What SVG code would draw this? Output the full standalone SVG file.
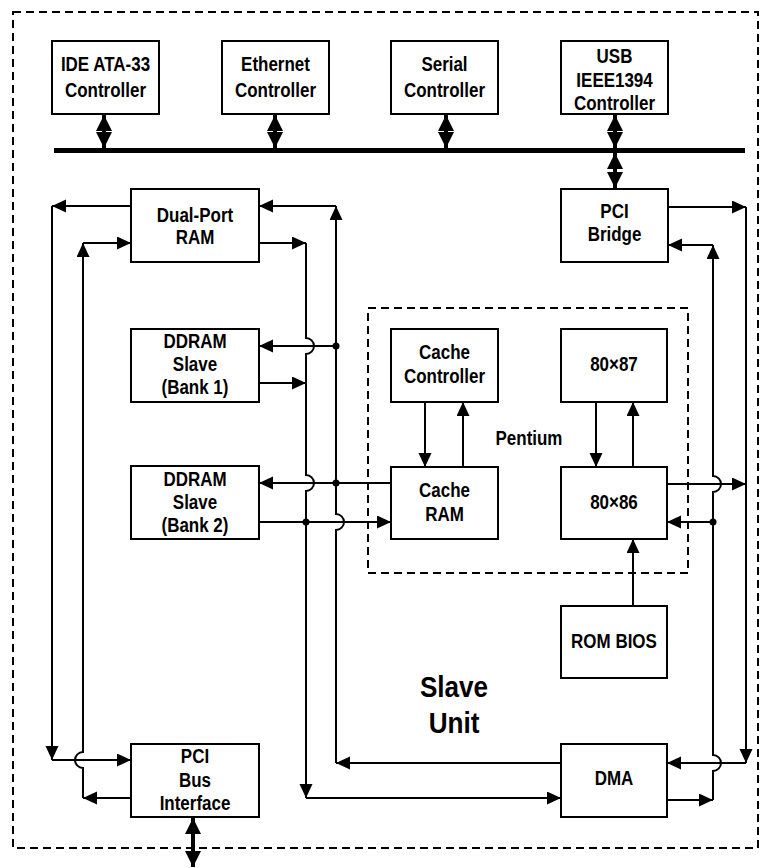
<svg xmlns="http://www.w3.org/2000/svg" width="767" height="868" viewBox="0 0 767 868">
<style>
.box{fill:#fff;stroke:#000;stroke-width:2}
.t{font-family:"Liberation Sans",Arial,sans-serif;font-weight:bold;font-size:19.5px;text-anchor:middle;fill:#000;transform-box:fill-box;transform-origin:center;transform:scaleX(0.87)}
.big{font-size:30px}
.ln{fill:none;stroke:#000;stroke-width:2}
.ar{marker-end:url(#ah)}
.dbl{fill:none;stroke:#000;stroke-width:4;marker-start:url(#dh);marker-end:url(#dh)}
.dash{fill:none;stroke:#000;stroke-width:2;stroke-dasharray:8 5}
.dot{fill:#000}
</style>
<defs>
<marker id="ah" markerUnits="userSpaceOnUse" markerWidth="15" markerHeight="14" refX="14" refY="6.5" orient="auto"><path d="M0,0 L14,6.5 L0,13 z" fill="#000"/></marker>
<marker id="dh" markerUnits="userSpaceOnUse" markerWidth="17" markerHeight="17" refX="16" refY="8" orient="auto-start-reverse"><path d="M0,0 L16,8 L0,16 z" fill="#000"/></marker>
</defs>
<rect class="dash" x="13" y="12" width="745" height="836"/>
<rect class="dash" x="368" y="308" width="320" height="265"/>
<text class="t" x="529" y="445">Pentium</text>
<text class="t big" x="454" y="697">Slave</text>
<text class="t big" x="454" y="733">Unit</text>
<g id="connectors">
<line x1="54" y1="150.5" x2="745" y2="150.5" stroke="#000" stroke-width="5"/>
<line class="dbl" x1="104" y1="115" x2="104" y2="148"/>
<line class="dbl" x1="275" y1="115" x2="275" y2="148"/>
<line class="dbl" x1="446" y1="115" x2="446" y2="148"/>
<line class="dbl" x1="615" y1="115" x2="615" y2="148"/>
<line class="dbl" x1="615" y1="153" x2="615" y2="188"/>
<line class="dbl" x1="193" y1="818" x2="193" y2="867"/>
<!-- left outer loop -->
<path class="ln ar" d="M131,206 H52"/>
<path class="ln ar" d="M52,206 V760"/>
<path class="ln ar" d="M52,760 H131"/>
<!-- left inner loop -->
<path class="ln ar" d="M131,798 H83"/>
<path class="ln ar" d="M83,798 V768 A8,8 0 0 1 83,752 V243"/>
<path class="ln ar" d="M83,243 H131"/>
<!-- x=336 bus -->
<path class="ln ar" d="M561,763 H336"/>
<path class="ln ar" d="M336,763 V530 A8,8 0 0 0 336,514 V206"/>
<path class="ln ar" d="M336,206 H259"/>
<path class="ln ar" d="M336,346 H259"/>
<path class="ln ar" d="M391,483 H259"/>
<circle class="dot" cx="336" cy="346" r="3.5"/>
<circle class="dot" cx="336" cy="483" r="3.5"/>
<!-- x=306 bus -->
<path class="ln ar" d="M259,243 H306"/>
<path class="ln ar" d="M306,243 V338 A8,8 0 0 1 306,354 V475 A8,8 0 0 1 306,491 V798"/>
<path class="ln ar" d="M306,798 H561"/>
<path class="ln ar" d="M259,383 H306"/>
<path class="ln ar" d="M259,522 H391"/>
<circle class="dot" cx="306" cy="522" r="3.5"/>
<!-- x=746 bus -->
<path class="ln ar" d="M668,207 H746"/>
<path class="ln ar" d="M746,207 V763"/>
<path class="ln ar" d="M746,763 H667"/>
<path class="ln ar" d="M667,484 H746"/>
<!-- x=713 bus -->
<path class="ln ar" d="M667,800 H713"/>
<path class="ln ar" d="M713,800 V771 A8,8 0 0 0 713,755 V492 A8,8 0 0 0 713,476 V245"/>
<path class="ln ar" d="M713,245 H668"/>
<path class="ln ar" d="M713,522 H667"/>
<circle class="dot" cx="713" cy="522" r="3.5"/>
<!-- pentium internal -->
<path class="ln ar" d="M425,402 V467"/>
<path class="ln ar" d="M463,467 V402"/>
<path class="ln ar" d="M596,402 V467"/>
<path class="ln ar" d="M633,467 V402"/>
<path class="ln ar" d="M633,606 V539"/>
</g>
<g id="ide"><rect class="box" x="52" y="41" width="107" height="73"/><text class="t" x="105.5" y="71">IDE ATA-33</text><text class="t" x="105.5" y="97">Controller</text></g>
<g id="ethernet"><rect class="box" x="222" y="41" width="107" height="73"/><text class="t" x="275.5" y="71">Ethernet</text><text class="t" x="275.5" y="97">Controller</text></g>
<g id="serial"><rect class="box" x="391" y="41" width="107" height="73"/><text class="t" x="444.5" y="71">Serial</text><text class="t" x="444.5" y="97">Controller</text></g>
<g id="usb"><rect class="box" x="561" y="41" width="107" height="73"/><text class="t" x="614.5" y="63">USB</text><text class="t" x="614.5" y="87">IEEE1394</text><text class="t" x="614.5" y="110">Controller</text></g>
<g id="pcibridge"><rect class="box" x="561" y="189" width="107" height="73"/><text class="t" x="614.5" y="218">PCI</text><text class="t" x="614.5" y="241">Bridge</text></g>
<g id="dualport"><rect class="box" x="131" y="189" width="128" height="73"/><text class="t" x="195" y="222">Dual-Port</text><text class="t" x="195" y="244">RAM</text></g>
<g id="ddram1"><rect class="box" x="131" y="329" width="128" height="73"/><text class="t" x="195" y="348">DDRAM</text><text class="t" x="195" y="371">Slave</text><text class="t" x="195" y="394">(Bank 1)</text></g>
<g id="ddram2"><rect class="box" x="131" y="466" width="128" height="73"/><text class="t" x="195" y="486">DDRAM</text><text class="t" x="195" y="509">Slave</text><text class="t" x="195" y="532">(Bank 2)</text></g>
<g id="pcibus"><rect class="box" x="131" y="744" width="128" height="73"/><text class="t" x="195" y="763">PCI</text><text class="t" x="195" y="787">Bus</text><text class="t" x="195" y="810">Interface</text></g>
<g id="cachectl"><rect class="box" x="391" y="329" width="107" height="73"/><text class="t" x="444.5" y="359">Cache</text><text class="t" x="444.5" y="383">Controller</text></g>
<g id="x87"><rect class="box" x="561" y="329" width="106" height="73"/><text class="t" x="614" y="371">80×87</text></g>
<g id="cacheram"><rect class="box" x="391" y="467" width="107" height="72"/><text class="t" x="444.5" y="497">Cache</text><text class="t" x="444.5" y="521">RAM</text></g>
<g id="x86"><rect class="box" x="561" y="467" width="106" height="72"/><text class="t" x="614" y="509">80×86</text></g>
<g id="rombios"><rect class="box" x="561" y="606" width="106" height="72"/><text class="t" x="614" y="648">ROM BIOS</text></g>
<g id="dma"><rect class="box" x="561" y="744" width="106" height="73"/><text class="t" x="614" y="785">DMA</text></g>
</svg>
